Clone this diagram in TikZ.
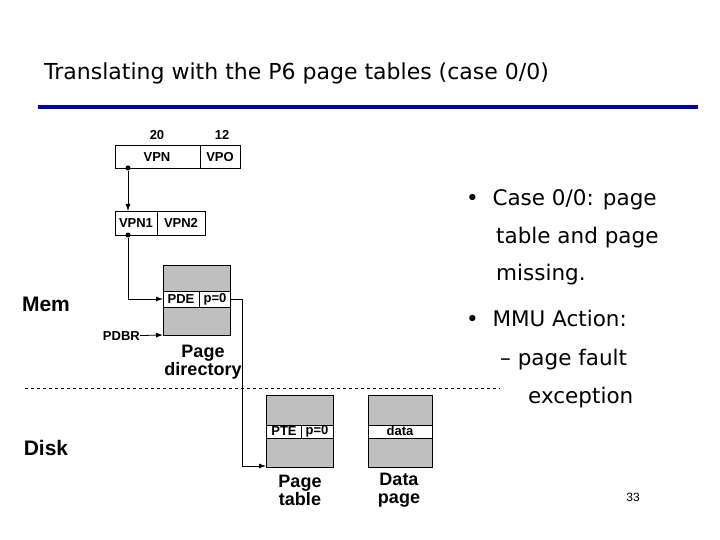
\documentclass[tikz,border=0pt]{standalone}
\usepackage{fontspec}
\setmainfont{Liberation Sans}
\newfontfamily\comic{DejaVu Sans}
\usetikzlibrary{arrows.meta}
\begin{document}
\begin{tikzpicture}[x=1pt,y=-1pt,
  lbl/.style={font=\bfseries\fontsize{13}{14}\selectfont,inner sep=0},
  big/.style={font=\bfseries\fontsize{18}{18}\selectfont,align=center,inner sep=0},
  bul/.style={font=\comic\fontsize{21.5}{22}\selectfont,anchor=west,inner sep=0},
  gray box/.style={draw,fill=black!25},
  row/.style={draw,fill=white},
  arr/.style={-{Latex[length=7pt,width=5pt]},thick},
  dot/.style={circle,fill,inner sep=0,minimum size=5pt}]
\useasboundingbox (0,0) rectangle (720,540);
\node[font=\comic\fontsize{22}{24}\selectfont,anchor=west,inner sep=0] (title) at (44,73) {Translating with the P6 page tables (case 0/0)};
\draw[line width=3.5pt,color=blue!60!black!80!blue] (38,107) -- (698,107);
% VPN box
\draw (115,145) rectangle (240,168); \draw (200,145) -- (200,168);
\node[lbl] (vpn) at (157,157) {VPN}; \node[lbl] (vpo) at (220,157) {VPO};
\node[lbl] (n20) at (157,135) {20}; \node[lbl] (n12) at (222,135) {12};
\node[dot] (d1) at (128,168) {};
% VPN1/2
\draw (115,211) rectangle (205,235); \draw (157,211) -- (157,235);
\node[lbl] (vpn1) at (136,223) {VPN1}; \node[lbl] (vpn2) at (181,223) {VPN2};
\coordinate (v1top) at (128,211);
\draw[arr] (d1) -- (v1top);
\node[dot] (d2) at (128,235) {};
% page directory
\draw[gray box] (163,265) rectangle (230,335);
\draw[row] (163,291) rectangle (230,307); \draw (199,291) -- (199,307);
\node[lbl] (pde) at (181,299) {PDE}; \node[lbl] (p0a) at (215,299) {p=0};
\coordinate (pdeL) at (163,299);
\draw[arr] (d2) |- (pdeL);
\node[lbl,anchor=east] (pdbr) at (140,336) {PDBR};
\coordinate (pdL) at (163,335);
\draw[arr] (pdbr) -- (pdL);
\node[big] (pdlab) at (203,362) {Page\\directory};
% dashed
\draw[dashed] (25,388) -- (500,388);
% page table
\draw[gray box] (266,395) rectangle (333,467);
\draw[row] (266,425) rectangle (333,438); \draw (301,425) -- (301,438);
\node[lbl] (pte) at (284,431) {PTE}; \node[lbl] (p0b) at (317,431) {p=0};
\coordinate (ptL) at (266,466); \coordinate (pdeR) at (230,299);
\draw[arr] (pdeR) -- (242,299) -- (242,466) -- (ptL);
\node[big] (ptlab) at (300,490) {Page\\table};
% data page
\draw[gray box] (368,395) rectangle (432,467);
\draw[row] (368,425) rectangle (432,438);
\node[lbl] (data) at (400,431) {data};
\node[big] (dplab) at (399,490) {Data\\page};
% Mem / Disk
\node[big,font=\bfseries\fontsize{21}{22}\selectfont] (mem) at (46,304) {Mem};
\node[big,font=\bfseries\fontsize{21}{22}\selectfont] (disk) at (46,448) {Disk};
% bullets
\node[bul] (b1) at (466,200) {•\ \ Case 0/0: page};
\node[bul] (b1b) at (496,238) {table and page};
\node[bul] (b1c) at (496,275) {missing.};
\node[bul] (b2) at (466,318) {•\ \ MMU Action:};
\node[bul] (b3) at (500,360) {–\ page fault};
\node[bul] (b3b) at (528,398) {exception};
\node[font=\fontsize{12}{12}\selectfont] (pg) at (633,497) {33};
\end{tikzpicture}
\end{document}
